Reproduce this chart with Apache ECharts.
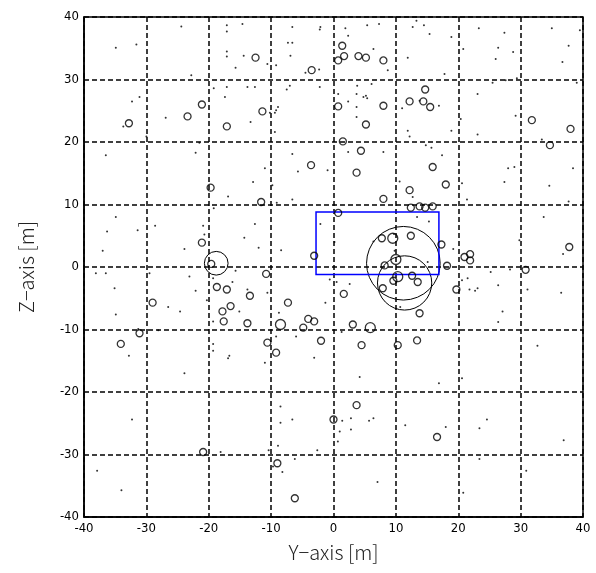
<!DOCTYPE html>
<html>
<head>
	<meta charset="UTF-8">
	<title>Y-Z scatter</title>
	<script src="https://cdn.jsdelivr.net/npm/echarts@6/dist/echarts.min.js"></script>
	<style>
	html,body{margin:0;padding:0;background:#fff;}
	#main{width:596px;height:573px;}
	</style>
</head>
<body>
<div id="main"></div>
<script type="text/javascript">
	// axis ticks
	var axisTicks = [-40, -30, -20, -10, 0, 10, 20, 30, 40];

	// small open circles [y, z]
	var smallCircles = [
		[-12.5,33.5],[-3.5,31.5],[-21.1,26.0],[-23.4,24.1],[-32.8,23.0],[-11.4,24.9],[-17.1,22.5],
		[1.4,35.4],[1.7,33.75],[0.75,33.05],[4.0,33.75],[5.2,33.5],[8.0,33.05],[14.7,28.4],[12.2,26.5],
		[14.4,26.5],[15.5,25.6],[0.75,25.7],[8.0,25.8],[5.2,22.8],[1.5,20.1],[31.8,23.5],[38.0,22.1],
		[-19.7,12.7],[-3.6,16.3],[-11.6,10.4],[-21.1,3.9],[-3.1,1.8],[-19.6,0.5],
		[4.4,18.6],[3.7,15.1],[15.9,16.0],[18.0,13.2],[12.2,12.3],[8.0,10.9],[12.4,9.5],[13.8,9.7],
		[14.7,9.5],[15.9,9.7],[0.75,8.65],[34.7,19.5],[7.75,4.6],[12.4,5.0],[17.3,3.6],[21.0,1.6],
		[21.9,2.05],[21.9,1.05],[37.8,3.2],[8.2,0.25],[18.2,0.2],[30.8,-0.45],
		[-10.8,-1.1],[-18.7,-3.2],[-17.1,-3.6],[-13.4,-4.6],[-29.0,-5.7],[-7.3,-5.7],[-16.5,-6.25],
		[-17.8,-7.1],[-17.6,-8.7],[-13.8,-9.0],[-4.85,-9.7],[-4.05,-8.3],[-3.1,-8.7],[-2.0,-11.8],
		[-31.1,-10.6],[-34.1,-12.3],[-10.6,-12.1],[-9.2,-13.7],
		[9.6,-2.2],[12.6,-1.4],[13.5,-2.4],[7.9,-3.4],[1.65,-4.3],[19.7,-3.6],[13.8,-7.4],[3.1,-9.2],
		[4.5,-12.5],[10.3,-12.5],[13.4,-11.75],
		[-20.9,-29.6],[-9.0,-31.4],[-6.2,-37.0],[0.0,-24.4],[3.7,-22.1],[16.6,-27.2]
	];

	// slightly bigger open circles
	var mediumCircles = [[9.5,4.6],[10.0,1.2],[10.3,-1.55],[-8.5,-9.2],[5.9,-9.7]];

	// circles drawn with a radius in metres [y, z, r]
	var rangeCircles = [[11.2,0.6,5.9],[11.4,-2.55,4.35],[-18.8,0.6,1.9]];

	// blue box [y1, z1, y2, z2]
	var blueBox = [[-2.8,-1.2,16.9,8.8]];

	// tiny dots
	var dots = [
		[-24.4,38.5],[-34.9,35.1],[-31.6,35.6],[-17.1,38.7],[-17.1,37.7],[-14.6,38.9],[-17.1,34.5],[-17.1,33.7],
		[-14.4,33.8],[-15.7,31.9],[-10.6,32.5],[-9.2,32.3],[-6.6,38.4],[-2.2,38.0],[-2.1,38.4],[-7.3,35.9],
		[-6.6,35.9],[-6.9,33.8],[-4.5,31.1],[-2.3,31.6],[-22.8,30.7],[-19.2,28.6],[-17.1,28.8],[-13.8,28.8],
		[-12.6,28.8],[-17.4,27.2],[-7.0,29.0],[-7.5,28.4],[-2.2,28.8],[-31.1,27.2],[-32.3,26.5],[-26.9,23.9],
		[-33.7,22.5],[-13.3,23.2],[-8.9,25.6],[-9.2,25.1],[-9.4,24.7],[-10.2,24.7],[-9.4,21.6],[-30.0,20.9],
		[1.9,38.2],[5.4,38.7],[7.3,38.9],[2.35,37.0],[6.4,34.9],[8.7,31.5],[13.3,39.4],[12.7,38.4],[14.5,38.7],
		[15.4,37.3],[18.9,36.8],[11.9,33.5],[17.8,30.9],[23.3,38.2],[27.4,37.5],[20.8,34.9],[26.4,35.1],
		[28.8,34.4],[26.0,33.3],[35.0,38.2],[39.5,37.9],[37.7,35.4],[36.7,32.8],[25.5,29.5],[27.6,29.9],
		[29.4,30.2],[39.0,29.5],[3.8,29.0],[6.1,29.3],[0.75,27.7],[3.7,27.7],[4.8,27.2],[5.2,27.4],[5.4,27.0],
		[2.35,26.5],[3.7,25.6],[3.7,24.0],[13.8,26.6],[11.0,25.4],[16.9,25.8],[23.1,27.7],[29.2,24.2],
		[20.4,23.7],[23.1,21.2],[18.9,21.8],[11.9,21.8],[12.2,20.9],[33.4,20.4],
		[-36.5,17.9],[-22.1,18.3],[-21.5,19.9],[-6.6,18.1],[-5.7,15.3],[-11.0,15.8],[-12.9,13.6],[-9.8,13.1],
		[-16.9,11.3],[-9.1,10.3],[-6.6,10.8],[-0.95,15.5],[-19.2,9.4],[-34.9,8.0],[-36.3,5.7],[-31.4,5.9],
		[-28.6,6.6],[-20.9,6.6],[-20.7,5.2],[-12.6,6.9],[-14.3,4.7],[-12.0,3.1],[-23.9,2.9],[-37.0,2.6],
		[-8.4,2.7],[-2.1,6.9],
		[2.35,18.4],[8.0,18.4],[14.8,19.5],[15.7,19.1],[17.4,17.9],[10.6,13.7],[12.7,11.2],[20.6,13.4],
		[21.4,10.8],[27.4,13.6],[28.0,15.8],[29.0,16.0],[34.6,13.0],[38.4,15.8],[37.7,10.5],[33.7,8.0],
		[29.8,4.3],[36.8,2.1],[13.4,8.0],[15.3,7.3],[9.7,5.3],[6.4,4.1],[9.8,2.6],[19.2,2.9],[15.1,0.8],[0.16,4.0],
		[-38.1,-1.0],[-36.5,-1.0],[-29.5,-1.0],[-23.1,-1.5],[-35.1,-3.4],[-22.1,-3.8],[-19.3,-1.8],[-16.2,-2.4],
		[-15.7,-0.6],[-20.3,-5.3],[-13.8,-3.6],[-10.6,-4.1],[-26.5,-6.4],[-24.6,-7.1],[-34.9,-7.6],[-15.1,-7.1],
		[-19.3,-8.7],[-8.75,-7.3],[-1.3,-5.7],[-0.6,-2.0],[-31.3,-9.9],[-28.1,-10.1],[-9.2,-11.1],[-6.0,-11.1],
		[-19.3,-12.3],[-19.3,-13.4],[-16.7,-14.2],[-16.9,-14.6],[-11.0,-15.3],[-32.8,-14.2],[-3.1,-14.5],[-23.9,-17.0],
		[0.5,-2.4],[2.6,-2.7],[20.6,-2.1],[21.5,-1.8],[25.2,-0.8],[28.3,-0.4],[26.4,-2.9],[21.8,-3.6],[22.7,-3.8],
		[23.1,-3.4],[31.1,-3.6],[36.5,-4.1],[27.1,-7.1],[26.4,-8.8],[1.3,-10.4],[32.7,-12.6],[4.2,-17.6],
		[16.9,-18.6],[20.6,-17.8],[10.7,-6.4],
		[-32.3,-24.4],[-18.1,-29.6],[-8.5,-22.3],[-6.6,-24.4],[-8.5,-24.9],[-8.9,-28.6],[-10.4,-29.3],[-2.6,-29.3],
		[-6.2,-30.7],[-8.2,-32.8],[-9.7,-31.9],[-37.9,-32.6],[-34.0,-35.7],
		[1.4,-24.6],[2.8,-24.2],[1.0,-26.3],[2.8,-26.0],[0.7,-27.9],[5.7,-24.6],[6.4,-24.2],[11.5,-25.3],
		[18.0,-25.6],[23.4,-25.8],[24.6,-24.4],[36.9,-27.7],[23.4,-30.7],[30.9,-32.6],[7.05,-34.4],[20.8,-36.1]
	];

	var tickFont = {color:'#000', fontSize:13, fontFamily:'Liberation Sans Narrow, DejaVu Sans Condensed, sans-serif'};
	var nameFont = {color:'#222', fontSize:20, fontWeight:300, fontFamily:'Noto Sans CJK JP, DejaVu Sans, sans-serif'};
	var dashGrid = {show:true, lineStyle:{color:'#000', type:[5,3], width:1.5}};

	function valueAxis(name, gap){
		return {
			type:'value', min:axisTicks[0], max:axisTicks[axisTicks.length-1], interval:10,
			name:name, nameLocation:'middle', nameGap:gap, nameTextStyle:nameFont,
			axisLine:{show:true, onZero:false, lineStyle:{color:'#000', width:1.5}},
			axisTick:{show:false},
			axisLabel:Object.assign({margin:5}, tickFont),
			splitLine:dashGrid
		};
	}

	var chart = echarts.init(document.getElementById('main'));
	chart.setOption({
		animation:false,
		grid:{left:84, right:13, top:17, bottom:56, show:true, borderColor:'#000', borderWidth:1.5},
		xAxis:valueAxis('Y\u2212axis [m]', 25),
		yAxis:valueAxis('Z\u2212axis [m]', 48),
		series:[
			{
				type:'scatter', data:dots, symbol:'circle', symbolSize:2,
				itemStyle:{color:'#000'}, silent:true
			},
			{
				type:'scatter', data:smallCircles, symbol:'circle', symbolSize:7,
				itemStyle:{color:'rgba(0,0,0,0)', borderColor:'#000', borderWidth:1.3}, silent:true
			},
			{
				type:'scatter', data:mediumCircles, symbol:'circle', symbolSize:10,
				itemStyle:{color:'rgba(0,0,0,0)', borderColor:'#000', borderWidth:1.3}, silent:true
			},
			{
				type:'custom', data:rangeCircles, silent:true,
				renderItem:function(params, api){
					var c = api.coord([api.value(0), api.value(1)]);
					var r = api.size([api.value(2), 0])[0];
					return {type:'circle', shape:{cx:c[0], cy:c[1], r:r},
						style:{fill:null, stroke:'#000', lineWidth:1}};
				}
			},
			{
				type:'custom', data:blueBox, silent:true,
				encode:{x:[0,2], y:[1,3]},
				renderItem:function(params, api){
					var p1 = api.coord([api.value(0), api.value(3)]);
					var p2 = api.coord([api.value(2), api.value(1)]);
					return {type:'rect', shape:{x:p1[0], y:p1[1], width:p2[0]-p1[0], height:p2[1]-p1[1]},
						style:{fill:null, stroke:'#0000ff', lineWidth:1.5}};
				}
			}
		]
	});
</script>
</body>
</html>
